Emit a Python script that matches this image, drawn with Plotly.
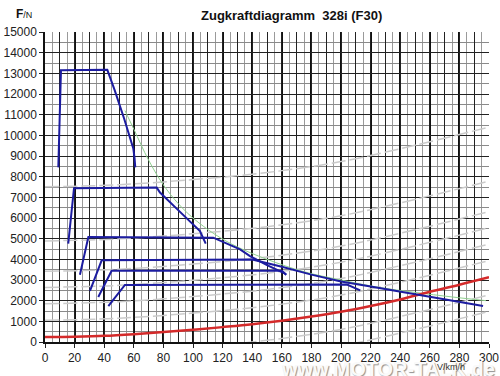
import plotly.graph_objects as go

# ---------------- data ----------------
speed_ticks = list(range(0, 301, 20))
force_ticks = list(range(0, 15001, 1000))

gear1_v = [9.0, 10.8, 42.1, 47.0, 53.5, 57.0, 59.7, 60.5, 61.0]
gear1_F = [8450, 13150, 13170, 12200, 10800, 9950, 9350, 8900, 8450]

gear2_v = [15.7, 19.6, 75.5, 77.7, 90.0, 104.7, 108.6]
gear2_F = [4760, 7440, 7470, 7230, 6380, 5370, 4760]

gear3_v = [23.6, 27.0, 29.3, 113.7, 131.8, 138.5, 150.0, 163.0]
gear3_F = [3250, 4400, 5080, 5050, 4480, 4160, 3720, 3280]

gear4_v = [30.4, 38.3, 140.0, 150.0, 160.0, 180.0, 200.0, 220.0, 250.0, 270.0, 296.0]
gear4_F = [2470, 3950, 3990, 3820, 3640, 3260, 2930, 2680, 2300, 2060, 1740]

gear5_v = [36.0, 45.0, 160.0, 163.0]
gear5_F = [2180, 3450, 3450, 3240]

gear6_v = [42.8, 54.0, 204.0, 213.0]
gear6_F = [1740, 2760, 2780, 2500]

ideal_v = [54, 60, 70, 80, 90, 100, 115, 130, 150, 175, 200, 225, 250, 275, 298]
ideal_F = [11200, 10300, 8800, 7600, 6700, 6000, 5200, 4600, 4000, 3400, 3000, 2650, 2400, 2180, 2000]

resist_v = [0, 20, 40, 60, 80, 100, 120, 140, 160, 180, 200, 220, 240, 260, 280, 300]
resist_F = [240, 260, 300, 380, 480, 590, 720, 860, 1030, 1230, 1460, 1740, 2060, 2430, 2770, 3130]

grade_v = [0, 50, 100, 150, 200, 250, 300]
grade_lines_F = [
    [-1410, -1310, -1060, -720, -190, 600, 1480],
    [-610, -510, -260, 80, 610, 1400, 2280],
    [1050, 1150, 1400, 1740, 2270, 3060, 3940],
    [1850, 1950, 2200, 2540, 3070, 3860, 4740],
    [2640, 2740, 2990, 3330, 3860, 4650, 5530],
    [3420, 3520, 3770, 4110, 4640, 5430, 6310],
    [4890, 4990, 5240, 5580, 6110, 6900, 7780],
    [7510, 7610, 7860, 8200, 8730, 9520, 10400],
]

BLUE = "#1c1ca0"

fig = go.Figure()

for gF in grade_lines_F:
    fig.add_trace(go.Scatter(x=grade_v, y=gF, mode="lines",
                             line=dict(color="#cbcbcb", width=1.5, dash="14px,4px", shape="spline"),
                             hoverinfo="skip", showlegend=False))

fig.add_trace(go.Scatter(x=ideal_v, y=ideal_F, mode="lines", line=dict(color="#8fd08f", width=1, shape="spline"), showlegend=False))
fig.add_trace(go.Scatter(x=resist_v, y=resist_F, mode="lines", line=dict(color="#d42a2a", width=2.5, shape="spline"), showlegend=False))

for gv, gF in [(gear1_v, gear1_F), (gear2_v, gear2_F), (gear3_v, gear3_F), (gear4_v, gear4_F), (gear5_v, gear5_F), (gear6_v, gear6_F)]:
    fig.add_trace(go.Scatter(x=gv, y=gF, mode="lines", line=dict(color=BLUE, width=2), showlegend=False))

# helper axis for the extra gridline level (every 10 km/h)
fig.add_trace(go.Scatter(x=[0], y=[0], xaxis="x2", yaxis="y2", mode="markers", marker=dict(opacity=0),
                         showlegend=False, hoverinfo="skip"))

fig.update_layout(
    width=500, height=376,
    margin=dict(l=45, r=11, t=32, b=34, autoexpand=False),
    paper_bgcolor="white", plot_bgcolor="white",
    font=dict(family="Liberation Sans, Arial, sans-serif", color="#222222", size=12),
    xaxis=dict(range=[0, 300], tickvals=speed_ticks, ticktext=[str(t) for t in speed_ticks],
               showgrid=True, gridcolor="#111111", gridwidth=2, automargin=False,
               minor=dict(dtick=5, showgrid=True, gridcolor="#9a9a9a", gridwidth=1),
               ticks="outside", ticklen=4, tickcolor="#222", zeroline=False,
               showline=True, linecolor="#111", linewidth=1.5, fixedrange=True,
               tickfont=dict(size=12)),
    yaxis=dict(range=[0, 15000], tickvals=force_ticks, ticktext=[str(t) for t in force_ticks],
               showgrid=True, gridcolor="#222222", gridwidth=1, automargin=False,
               minor=dict(dtick=500, showgrid=True, gridcolor="#8a8a8a", gridwidth=1),
               ticks="outside", ticklen=4, tickcolor="#222", zeroline=False,
               showline=True, linecolor="#111", linewidth=1.5, fixedrange=True,
               tickfont=dict(size=12)),
    xaxis2=dict(range=[0, 300], overlaying="x", dtick=10, showgrid=True, gridcolor="#222222", gridwidth=1,
                showticklabels=False, zeroline=False, automargin=False, ticks=""),
    yaxis2=dict(range=[0, 15000], overlaying="y", showgrid=False, showticklabels=False, zeroline=False,
                automargin=False, ticks=""),
    showlegend=False,
)

fig.add_annotation(text="<b>Zugkraftdiagramm  328i (F30)</b>", xref="paper", yref="paper", x=0.556, y=1.0, yshift=17,
                   showarrow=False, font=dict(size=13, color="#111"), xanchor="center", yanchor="middle")
fig.add_annotation(text="<b>F</b><span style='font-size:9px'>/N</span>", xref="paper", yref="paper", x=0.0, xshift=-21,
                   y=1.0, yshift=18, showarrow=False, font=dict(size=12, color="#111"), xanchor="center", yanchor="middle")
fig.add_annotation(text="<b>www.MOTOR-TALK.de</b>", xref="paper", yref="paper", x=1.0, xshift=8, y=0, yshift=-27,
                   showarrow=False, font=dict(size=20, color="#fafafa", shadow="1px 1px 1px #909090"),
                   xanchor="right", yanchor="middle")
fig.add_annotation(text="V/km/h", xref="paper", yref="paper", x=0.915, y=0, yshift=-25,
                   showarrow=False, font=dict(size=9, color="#333"), xanchor="center", yanchor="middle")

fig.write_html("out.html", config={"displayModeBar": False},
               post_script="document.body.style.margin='0px';document.body.style.overflow='hidden';")
